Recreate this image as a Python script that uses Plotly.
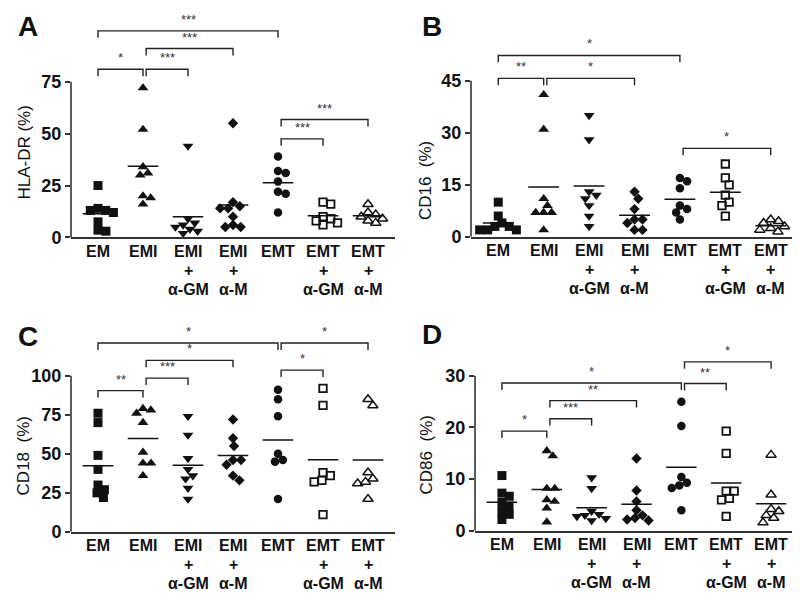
import math
import plotly.graph_objects as go

# ---------------- data ----------------
categories = ["EM", "EMI", "EMI<br>+<br>α-GM", "EMI<br>+<br>α-M", "EMT",
              "EMT<br>+<br>α-GM", "EMT<br>+<br>α-M"]

hla_dr = [
    [25, 14, 13, 13, 12, 7.5, 3.5, 3],
    [72, 52, 34, 31, 30, 20, 19, 16],
    [44, 9, 7, 6, 5, 4, 3, 2],
    [55, 17, 15, 14, 14, 10, 6, 5, 5],
    [39, 32, 31, 27, 22, 21, 12],
    [17, 16, 10, 9, 8, 7, 6],
    [16, 12, 11, 10, 9, 8, 7],
]
cd16 = [
    [10, 6, 4, 3, 3, 2, 2, 2],
    [41, 31, 11, 9, 7, 7, 7, 2],
    [35, 28, 13, 12, 11, 9, 6, 3],
    [13, 11, 8, 5, 5, 4, 2, 2],
    [17, 16, 14, 9, 8, 7, 5],
    [21, 17, 15, 12, 10, 9, 6],
    [5, 4.5, 4, 3, 2.5, 2, 1.5],
]
cd18 = [
    [76, 70, 49, 40, 30, 27, 25, 22],
    [79, 78, 76, 70, 51, 44, 44, 36],
    [74, 62, 47, 40, 36, 34, 28, 21],
    [72, 60, 55, 46, 46, 43, 36, 33],
    [91, 85, 74, 50, 46, 45, 21],
    [92, 81, 38, 36, 33, 32, 11],
    [85, 81, 38, 34, 32, 31, 21],
]
cd86 = [
    [10.7, 7.3, 6.7, 5.5, 4.8, 3.8, 3.2, 2.2],
    [15.5, 14.5, 8.2, 8.2, 6, 5.7, 4.4, 1.7],
    [10.3, 8.2, 3.8, 3.2, 3, 2.8, 2.4, 2],
    [14, 7.8, 5.7, 4, 3, 2.5, 2.2, 2],
    [25, 20.3, 10.4, 9.3, 8.8, 8.3, 4],
    [19.3, 15, 7.7, 7.7, 6.3, 6, 2.8],
    [14.7, 7, 4.2, 3.8, 3, 2.5, 1.6],
]

# significance brackets: (group i, group j, level, label)
sig_a = [(0, 1, 81, "*"), (1, 2, 81, "***"), (1, 3, 91, "***"), (0, 4, 99.5, "***"),
         (4, 5, 47.5, "***"), (4, 6, 56.8, "***")]
sig_b = [(0, 1, 45.7, "**"), (1, 3, 45.7, "*"), (0, 4, 52.3, "*"), (4, 6, 25.5, "*")]
sig_c = [(0, 1, 90.5, "**"), (1, 2, 98.5, "***"), (1, 3, 109.9, "*"), (0, 4, 121, "*"),
         (4, 5, 103.6, "*"), (4, 6, 121, "*")]
sig_d = [(0, 1, 19.3, "*"), (1, 2, 21.7, "***"), (1, 3, 25.2, "**"), (0, 4, 28.6, "*"),
         (4, 5, 28.5, "**"), (4, 6, 32.7, "*")]

y_titles = ["HLA-DR (%)", "CD16\u00a0\u00a0(%)", "CD18\u00a0\u00a0(%)", "CD86\u00a0\u00a0(%)"]
y_ticks = [[0, 25, 50, 75], [0, 15, 30, 45], [0, 25, 50, 75, 100], [0, 10, 20, 30]]
panel_letters = ["A", "B", "C", "D"]

# ---------------- style ----------------
W, H = 800, 602
FONT = "Liberation Sans, Arial, Helvetica, sans-serif"
INK = "#111111"
symbols = ["square", "triangle-up", "triangle-down", "diamond", "circle",
           "square-open", "triangle-up-open"]
msizes = [9, 9.5, 9.5, 8, 8.5, 7.5, 9]
mlines = [0, 0, 0, 0, 0, 1.8, 1.5]

panels = [
    dict(data=hla_dr, sig=sig_a, x0=63, x1=387, y0=233.3, ytop_val=75, ytop_px=75, dom_top=12,
         title_xy=(17, 147), letter_xy=(8, 19)),
    dict(data=cd16, sig=sig_b, x0=463, x1=790, y0=232.7, ytop_val=45, ytop_px=74, dom_top=12,
         title_xy=(417, 176), letter_xy=(412, 19)),
    dict(data=cd18, sig=sig_c, x0=63, x1=387, y0=532.7, ytop_val=100, ytop_px=374, dom_top=312,
         title_xy=(15, 456), letter_xy=(8, 334)),
    dict(data=cd86, sig=sig_d, x0=467, x1=790, y0=531.7, ytop_val=30, ytop_px=374, dom_top=312,
         title_xy=(418, 455), letter_xy=(412, 332)),
]

XR = (-0.6, 6.6)
LABEL_FIRST = 14   # px below axis for first label line
LABEL_STEP = 19    # px between label lines


def beeswarm(values, ppu, upx, d=8.0):
    """Deterministic horizontal spread for overlapping points (returns x offsets in category units)."""
    order = sorted(range(len(values)), key=lambda k: -values[k])
    placed = []
    offs = [0.0] * len(values)
    for k in order:
        y = values[k] * ppu
        cands = [0.0]
        for (px, py) in placed:
            dy = abs(py - y)
            if dy < d:
                dx = math.sqrt(d * d - dy * dy)
                cands += [px + dx, px - dx]
        cands.sort(key=lambda c: (abs(c), -c))
        for c in cands:
            if all((c - px) ** 2 + (y - py) ** 2 >= d * d - 1e-6 for (px, py) in placed):
                break
        placed.append((c, y))
        offs[k] = c / upx
    return offs


fig = go.Figure()
layout = dict(width=W, height=H, margin=dict(l=0, r=0, t=0, b=0),
              paper_bgcolor="white", plot_bgcolor="white", showlegend=False,
              font=dict(family=FONT, color=INK))
shapes, annos = [], []

for p_i, P in enumerate(panels):
    n = "" if p_i == 0 else str(p_i + 1)
    xa, ya = "x" + n, "y" + n
    ppu = (P["y0"] - P["ytop_px"]) / P["ytop_val"]
    rng_top = (P["y0"] - P["dom_top"]) / ppu
    upx = (P["x1"] - P["x0"]) / (XR[1] - XR[0])
    layout["xaxis" + n] = dict(
        domain=[P["x0"] / W, P["x1"] / W], range=list(XR), anchor=ya,
        tickmode="array", tickvals=list(range(len(categories))), showticklabels=False,
        showline=True, linecolor="#333333", linewidth=1.6, ticks="", showgrid=False,
        zeroline=False, fixedrange=True)
    layout["yaxis" + n] = dict(
        domain=[(H - P["y0"]) / H, (H - P["dom_top"]) / H], range=[0, rng_top], anchor=xa,
        tickmode="array", tickvals=y_ticks[p_i], ticks="outside", ticklen=5, tickwidth=1.5,
        tickcolor="#333333", showline=False, showgrid=False, zeroline=False,
        tickfont=dict(family=FONT, size=18, color=INK, weight="bold"), fixedrange=True)
    shapes.append(dict(type="line", xref=xa + " domain", yref=ya, x0=0, x1=0,
                       y0=0, y1=y_ticks[p_i][-1], line=dict(color="#333333", width=1.6)))

    # category labels (one annotation per line for exact spacing)
    for g, cat in enumerate(categories):
        for k, line in enumerate(cat.split("<br>")):
            annos.append(dict(xref=xa, yref=ya, x=g, y=0, text="<b>" + line + "</b>",
                              showarrow=False, xanchor="center", yanchor="middle",
                              yshift=-(LABEL_FIRST + LABEL_STEP * k),
                              font=dict(family=FONT, size=16, color=INK)))

    # points + mean lines
    for g, vals in enumerate(P["data"]):
        offs = beeswarm(vals, ppu, upx)
        fig.add_trace(go.Scatter(
            x=[g + o for o in offs], y=vals, mode="markers", xaxis=xa, yaxis=ya,
            cliponaxis=False,
            marker=dict(symbol=symbols[g], size=msizes[g], color=INK,
                        line=dict(color=INK, width=mlines[g])),
            hoverinfo="y"))
        m = sum(vals) / len(vals)
        fig.add_trace(go.Scatter(
            x=[g - 0.34, g + 0.34], y=[m, m], mode="lines", xaxis=xa, yaxis=ya,
            cliponaxis=False, line=dict(color=INK, width=1.5), hoverinfo="skip"))

    # significance brackets
    ends = {j for (_, j, _, _) in P["sig"]}
    leg = 7 / ppu
    for (i, j, lev, lab) in P["sig"]:
        xs = i + (0.07 if i in ends else 0.0)
        xe = j
        fig.add_trace(go.Scatter(
            x=[xs, xs, xe, xe], y=[lev - leg, lev, lev, lev - leg], mode="lines",
            xaxis=xa, yaxis=ya, cliponaxis=False,
            line=dict(color="#222222", width=1.4), hoverinfo="skip"))
        annos.append(dict(xref=xa, yref=ya, x=(xs + xe) / 2, y=lev, text=lab,
                          showarrow=False, yanchor="bottom", yshift=2,
                          font=dict(family=FONT, size=13, color="#333333")))

    tx, ty = P["title_xy"]
    annos.append(dict(xref="paper", yref="paper", x=tx / W, y=1 - ty / H, text=y_titles[p_i],
                      textangle=-90, showarrow=False, xanchor="center", yanchor="middle",
                      font=dict(family=FONT, size=17, color=INK)))
    lx, ly = P["letter_xy"]
    annos.append(dict(xref="paper", yref="paper", x=lx / W, y=1 - ly / H,
                      text="<b>" + panel_letters[p_i] + "</b>", showarrow=False,
                      xanchor="left", yanchor="middle",
                      font=dict(family=FONT, size=28, color=INK)))

layout["shapes"] = shapes
layout["annotations"] = annos
fig.update_layout(**layout)
fig.write_html("out.html")
